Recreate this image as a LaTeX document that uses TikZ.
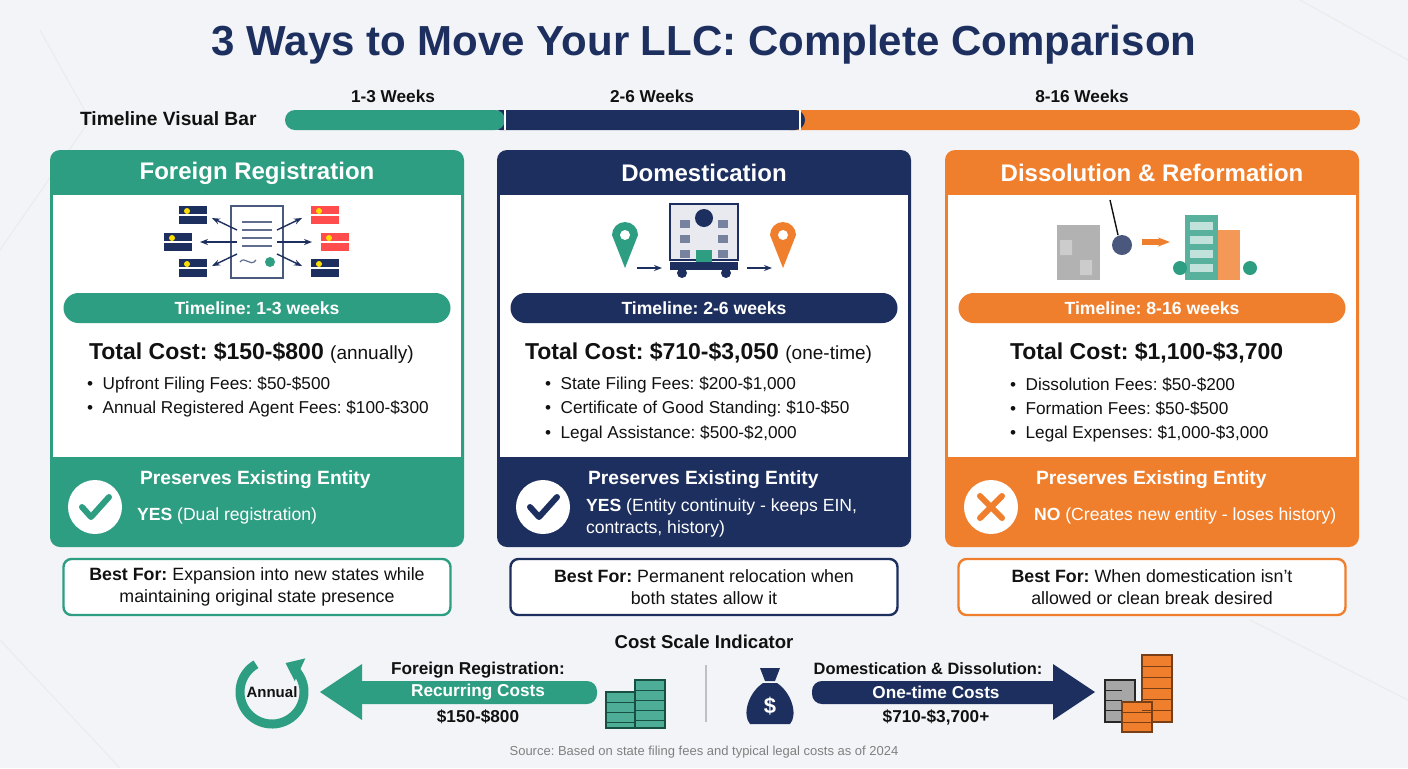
\documentclass[tikz,border=0pt]{standalone}
\usepackage{fontspec}
\setmainfont{Liberation Sans}
\usetikzlibrary{arrows.meta,shapes.geometric,calc}
\definecolor{bg}{HTML}{F2F4F7}
\definecolor{gr}{HTML}{2E9E83}
\definecolor{nv}{HTML}{1D2F5E}
\definecolor{org}{HTML}{F07F2D}
\definecolor{ink}{HTML}{111111}
\newcommand\fs[1]{\fontsize{#1pt}{1.25\dimexpr #1pt\relax}\selectfont}
\frenchspacing
\tikzset{
 x=0.5pt,y=-0.5pt,
 hdr/.style={font=\fs{12}\bfseries,text=white},
 pill/.style={rounded corners=7.5pt,minimum width=193.5pt,minimum height=15pt,inner sep=0pt,font=\fs{8.8}\bfseries,text=white},
 tot/.style={anchor=west,font=\fs{11.5}\bfseries,text=ink},
 bul/.style={anchor=west,font=\fs{8.6},text=ink},
 pres/.style={anchor=west,font=\fs{9.6}\bfseries,text=white},
 stat/.style={anchor=north west,font=\fs{8.8},text=white,align=left},
 best/.style={draw=#1,line width=1.2pt,fill=white,rounded corners=4pt,minimum width=193.5pt,minimum height=28pt,align=center,font=\fs{8.9},text=ink},
 lbl/.style={font=\fs{8.6}\bfseries,text=ink},
}
\newcommand\panelbox[2]{% x0, color
 \fill[#2,rounded corners=5pt] (#1,150) rectangle ++(414,397);
 \fill[white] (#1+3,195) rectangle ++(408,262);
}
\begin{document}
\begin{tikzpicture}
\fill[bg] (0,0) rectangle (1408,768);
\useasboundingbox (0,0) rectangle (1408,768);
\draw[gray!15,line width=0.6pt] (0,250)--(90,120)--(40,30) (1300,0)--(1408,60) (1250,620)--(1408,700) (0,640)--(120,768);
% title
\node[font=\fs{21}\bfseries,text=nv] (title) at (704,45) {3 Ways to Move Your LLC: Complete Comparison};
% timeline bar
\node[font=\fs{9.6}\bfseries,text=ink,anchor=west] (tvb) at (73,119) {Timeline Visual Bar};
\fill[org,rounded corners=5pt] (780,110) rectangle (1360,130);
\fill[nv,rounded corners=5pt] (490,110) rectangle (805,130);
\fill[gr,rounded corners=5pt] (285,110) rectangle (505,130);
\draw[white,line width=1pt] (505,110)--(505,130) (800,110)--(800,130);
\node[lbl] (w1) at (393,96) {1-3 Weeks};
\node[lbl] (w2) at (652,96) {2-6 Weeks};
\node[lbl] (w3) at (1082,96) {8-16 Weeks};
% panels
\panelbox{50}{gr}\panelbox{497}{nv}\panelbox{945}{org}
\node[hdr] (h1) at (257,173) {Foreign Registration};
\node[hdr] (h2) at (704,173) {Domestication};
\node[hdr] (h3) at (1152,173) {Dissolution \& Reformation};
\node[pill,fill=gr] (p1) at (257,308) {Timeline: 1-3 weeks};
\node[pill,fill=nv] (p2) at (704,308) {Timeline: 2-6 weeks};
\node[pill,fill=org] (p3) at (1152,308) {Timeline: 8-16 weeks};
\node[tot] (t1) at (82,353) {Total Cost: \$150-\$800 {\mdseries\fs{9.5}(annually)}};
\node[tot] (t2) at (518,353) {Total Cost: \$710-\$3,050 {\mdseries\fs{9.5}(one-time)}};
\node[tot] (t3) at (1003,353) {Total Cost: \$1,100-\$3,700};
\node[bul] (b1a) at (80,385) {•\ \ Upfront Filing Fees: \$50-\$500};
\node[bul] (b1b) at (80,409) {•\ \ Annual Registered Agent Fees: \$100-\$300};
\node[bul] (b2a) at (538,385) {•\ \ State Filing Fees: \$200-\$1,000};
\node[bul] (b2b) at (538,409) {•\ \ Certificate of Good Standing: \$10-\$50};
\node[bul] (b2c) at (538,434) {•\ \ Legal Assistance: \$500-\$2,000};
\node[bul] (b3a) at (1003,385) {•\ \ Dissolution Fees: \$50-\$200};
\node[bul] (b3b) at (1003,409) {•\ \ Formation Fees: \$50-\$500};
\node[bul] (b3c) at (1003,434) {•\ \ Legal Expenses: \$1,000-\$3,000};
% preserves
\node[circle,fill=white,minimum size=27pt] (c1) at (95,507) {};
\draw[gr,line width=3pt,line cap=round,line join=round] (82,507)--(91,517)--(109,497);
\node[circle,fill=white,minimum size=27pt] (c2) at (543,507) {};
\draw[nv,line width=3pt,line cap=round,line join=round] (530,507)--(539,517)--(557,497);
\node[circle,fill=white,minimum size=27pt] (c3) at (991,507) {};
\draw[org,line width=3pt,line cap=round] (980,496)--(1002,518) (1002,496)--(980,518);
\node[pres] (r1) at (133,480) {Preserves Existing Entity};
\node[pres] (r2) at (581,480) {Preserves Existing Entity};
\node[pres] (r3) at (1029,480) {Preserves Existing Entity};
\node[stat] (s1) at (130,501) {\textbf{YES} (Dual registration)};
\node[stat] (s2) at (579,492) {\textbf{YES} (Entity continuity - keeps EIN,\\contracts, history)};
\node[stat] (s3) at (1027,501) {\textbf{NO} (Creates new entity - loses history)};
% best for
\node[best=gr] (f1) at (257,587) {\textbf{Best For:} Expansion into new states while\\maintaining original state presence};
\node[best=nv] (f2) at (704,587) {\textbf{Best For:} Permanent relocation when\\both states allow it};
\node[best=org] (f3) at (1152,587) {\textbf{Best For:} When domestication isn't\\allowed or clean break desired};
% icons panel 1
\node[draw=nv!80,fill=white,line width=0.8pt,minimum width=26pt,minimum height=36pt] (doc) at (257,242) {};
\foreach \yy in {222,230,238,246} \draw[nv!70,line width=0.6pt] (242,\yy)--(272,\yy);
\draw[nv!70,line width=0.6pt] (240,262) .. controls (245,255) and (250,268) .. (256,260);
\fill[gr] (270,262) circle (5);
\foreach \fx/\fy/\c in {193/215/nv,325/215/red!70,178/242/nv,335/242/red!70,193/268/nv,325/268/nv}{
  \fill[\c] (\fx-14,\fy-9) rectangle (\fx+14,\fy+9);
  \fill[white] (\fx-14,\fy-1) rectangle (\fx+14,\fy+1);
  \fill[yellow!80!orange] (\fx-6,\fy-4) circle (3);
}
\draw[-{Stealth[length=4pt]},nv,line width=0.7pt] (237,230)--(212,218);
\draw[-{Stealth[length=4pt]},nv,line width=0.7pt] (237,242)--(200,242);
\draw[-{Stealth[length=4pt]},nv,line width=0.7pt] (237,254)--(212,266);
\draw[-{Stealth[length=4pt]},nv,line width=0.7pt] (277,230)--(302,218);
\draw[-{Stealth[length=4pt]},nv,line width=0.7pt] (277,242)--(312,242);
\draw[-{Stealth[length=4pt]},nv,line width=0.7pt] (277,254)--(302,266);
% icons panel 2
\fill[gr] (625,268) -- (612,235) arc[start angle=180,end angle=0,radius=6.5pt] -- cycle; \fill[white] (625,235) circle (5);
\fill[org] (783,268) -- (770,235) arc[start angle=180,end angle=0,radius=6.5pt] -- cycle; \fill[white] (783,235) circle (5);
\node[draw=nv,fill=nv!10,line width=1pt,minimum width=34pt,minimum height=28pt] (bld) at (704,232) {};
\foreach \yy in {220,235,250} {\fill[nv!60] (680,\yy) rectangle (690,\yy+8); \fill[nv!60] (718,\yy) rectangle (728,\yy+8);}
\fill[gr] (696,250) rectangle (712,262);
\fill[nv] (670,262) rectangle (738,270);
\fill[nv] (682,273) circle (5) (726,273) circle (5);
\fill[nv] (704,218) circle (9);
\draw[-{Stealth[length=4pt]},nv,line width=0.8pt] (637,268)--(662,268);
\draw[-{Stealth[length=4pt]},nv,line width=0.8pt] (747,268)--(772,268);
% icons panel 3
\fill[gray!60] (1057,225) rectangle (1100,280);
\fill[gray!40] (1060,240) rectangle (1072,255) (1080,260) rectangle (1092,275);
\draw[ink,line width=0.7pt] (1110,200)--(1118,235);
\fill[nv!80] (1122,245) circle (10);
\draw[-{Stealth[length=6pt]},org,line width=3pt] (1142,242)--(1170,242);
\fill[gr!80] (1185,215) rectangle (1218,280);
\fill[org!80] (1218,230) rectangle (1240,280);
\foreach \yy in {222,236,250,264} \fill[white!70!gr] (1190,\yy) rectangle (1213,\yy+8);
\fill[gr] (1180,268) circle (7) (1250,268) circle (7);
% cost scale
\node[font=\fs{9.3}\bfseries,text=ink] (csi) at (704,642) {Cost Scale Indicator};
\coordinate (cc) at (272,692);
\draw[gr,line width=4.5pt,-{Triangle[length=8pt,width=12pt]}] ($(cc)+(120:16pt)$) arc[start angle=120,end angle=425,radius=16pt];
\node[font=\fs{7.5}\bfseries,text=ink] (ann) at (cc) {Annual};
\fill[gr,rounded corners=5pt] (340,681) rectangle (597,704);
\fill[gr] (320,692)--(362,664)--(362,720)--cycle;
\node[lbl] (fr) at (478,670) {Foreign Registration:};
\node[font=\fs{8.6}\bfseries,text=white] (rc) at (478,692) {Recurring Costs};
\node[lbl] (fc) at (478,717) {\$150-\$800};
\foreach \cx/\cb/\ct in {621/728/692, 650/728/680}{
  \fill[gr!85] (\cx-15,\ct) rectangle (\cx+15,\cb);
  \draw[gr!50!black,line width=0.6pt] (\cx-15,\ct) rectangle (\cx+15,\cb);
}
\foreach \yy in {702,712,722} \draw[gr!50!black,line width=0.5pt] (606,\yy)--(636,\yy);
\foreach \yy in {690,700,710,720} \draw[gr!50!black,line width=0.5pt] (635,\yy)--(665,\yy);
\draw[gray!50,line width=0.8pt] (706,665)--(706,722);
\fill[nv] (770,724) -- (750,724) .. controls (742,715) and (748,693) .. (763,683) -- (777,683) .. controls (792,693) and (798,715) .. (790,724) -- cycle;
\fill[nv] (760,668)--(780,668)--(775,681)--(765,681)--cycle;
\node[font=\fs{11}\bfseries,text=white] (dol) at (770,706) {\$};
\fill[nv,rounded corners=5pt] (812,681) rectangle (1065,704);
\fill[nv] (1095,692)--(1053,664)--(1053,720)--cycle;
\node[font=\fs{8.2}\bfseries,text=ink] (dd) at (928,669) {Domestication \& Dissolution:};
\node[font=\fs{8.6}\bfseries,text=white] (ot) at (936,692) {One-time Costs};
\node[lbl] (dc) at (936,717) {\$710-\$3,700+};
\fill[gray!70] (1105,680) rectangle (1135,722); \draw[gray!30!black,line width=0.6pt] (1105,680) rectangle (1135,722);
\fill[org] (1142,655) rectangle (1172,722); \draw[org!50!black,line width=0.6pt] (1142,655) rectangle (1172,722);
\fill[org] (1122,702) rectangle (1152,732); \draw[org!50!black,line width=0.6pt] (1122,702) rectangle (1152,732);
\foreach \yy in {666,677,688,699,710} \draw[org!50!black,line width=0.4pt] (1142,\yy)--(1172,\yy);
\foreach \yy in {690,700,710} \draw[gray!30!black,line width=0.4pt] (1105,\yy)--(1122,\yy);
\foreach \yy in {712,722} \draw[org!50!black,line width=0.4pt] (1122,\yy)--(1152,\yy);
\node[font=\fs{6.5},text=gray] (src) at (704,752) {Source: Based on state filing fees and typical legal costs as of 2024};
\end{tikzpicture}
\end{document}
